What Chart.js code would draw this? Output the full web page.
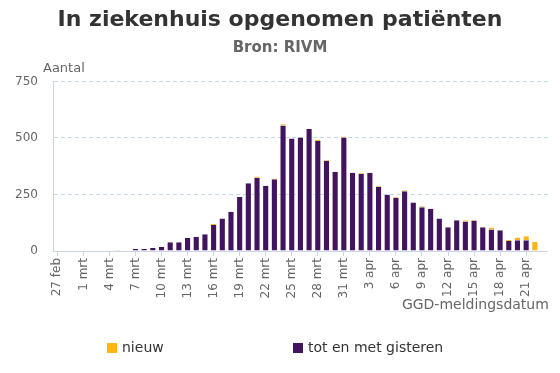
<!DOCTYPE html>
<html lang="nl">
<head>
<meta charset="utf-8">
<title>In ziekenhuis opgenomen patiënten</title>
<script src="https://cdn.jsdelivr.net/npm/chart.js@4/dist/chart.umd.min.js"></script>
<style>
  html, body { margin: 0; padding: 0; background: #fff; }
  #wrap { position: relative; width: 560px; height: 373px; }
  #legenda { position: absolute; left: 0; top: 339px; width: 560px; height: 18px;
    font: 14px "DejaVu Sans", sans-serif; color: #333; }
  .item { position: absolute; top: 0; white-space: nowrap; }
  .item i { display: inline-block; width: 10px; height: 10px; margin-right: 5px; vertical-align: -1px; }
</style>
</head>
<body>
<div id="wrap">
  <canvas id="grafiek" width="560" height="373"></canvas>
  <div id="legenda"></div>
</div>
<script>
// Datums 27 feb t/m 23 apr (2020)
const datums = [
  "27 feb", "28 feb", "29 feb",
  "1 mrt", "2 mrt", "3 mrt", "4 mrt", "5 mrt", "6 mrt", "7 mrt", "8 mrt", "9 mrt", "10 mrt",
  "11 mrt", "12 mrt", "13 mrt", "14 mrt", "15 mrt", "16 mrt", "17 mrt", "18 mrt", "19 mrt", "20 mrt",
  "21 mrt", "22 mrt", "23 mrt", "24 mrt", "25 mrt", "26 mrt", "27 mrt", "28 mrt", "29 mrt", "30 mrt", "31 mrt",
  "1 apr", "2 apr", "3 apr", "4 apr", "5 apr", "6 apr", "7 apr", "8 apr", "9 apr", "10 apr",
  "11 apr", "12 apr", "13 apr", "14 apr", "15 apr", "16 apr", "17 apr", "18 apr", "19 apr", "20 apr",
  "21 apr", "22 apr", "23 apr"
];

// tot en met gisteren (paars)
const totGisteren = [
  0, 0, 0,
  0, 0, 0, 0, 0, 0, 9, 9, 13, 18,
  39, 39, 59, 63, 74, 115, 144, 174, 239, 300,
  324, 289, 317, 555, 497, 502, 540, 486, 399, 350, 502,
  346, 342, 346, 284, 249, 235, 264, 215, 193, 187,
  144, 105, 136, 131, 135, 105, 95, 92, 44, 47,
  47, 0, 0
];

// nieuw (geel)
const nieuw = [
  0, 0, 0,
  0, 0, 0, 0, 4, 0, 0, 0, 0, 0,
  0, 0, 0, 0, 0, 4, 0, 0, 0, 0,
  6, 0, 4, 5, 0, 0, 0, 7, 4, 0, 4,
  0, 4, 0, 5, 0, 5, 5, 0, 5, 0,
  0, 0, 0, 5, 3, 0, 9, 0, 5, 13,
  18, 40, 0
];

const yTicks = [0, 250, 500, 750];
const yTitel = "Aantal";
const xTitel = "GGD-meldingsdatum";

const paars = "#42145f";
const geel = "#ffb612";
const lijnKleur = "#ccd6eb";
const randje = "rgba(255,255,255,0.55)";

// As-titels op de plek waar het origineel ze heeft
const asTitels = {
  id: "asTitels",
  afterDraw(chart) {
    const { ctx, chartArea } = chart;
    ctx.save();
    ctx.fillStyle = "#666";
    ctx.textBaseline = "middle";
    ctx.font = '13px "DejaVu Sans"';
    ctx.textAlign = "left";
    ctx.fillText(yTitel, chartArea.left - 10, chartArea.top - 13);
    ctx.font = '14px "DejaVu Sans"';
    ctx.textAlign = "right";
    ctx.fillText(xTitel, chartArea.right + 1, chartArea.bottom + 54);
    ctx.restore();
  }
};

const ctx = document.getElementById("grafiek");
const grafiek = new Chart(ctx, {
  type: "bar",
  data: {
    labels: datums,
    datasets: [
      {
        label: "tot en met gisteren",
        data: totGisteren,
        backgroundColor: paars,
        borderColor: randje,
        borderWidth: { left: 1, right: 1, top: 0, bottom: 0 },
        categoryPercentage: 1,
        barPercentage: 0.82
      },
      {
        label: "nieuw",
        data: nieuw,
        backgroundColor: geel,
        borderColor: randje,
        borderWidth: { left: 1, right: 1, top: 0, bottom: 0 },
        categoryPercentage: 1,
        barPercentage: 0.82
      }
    ]
  },
  options: {
    responsive: false,
    animation: false,
    devicePixelRatio: 1,
    layout: { padding: { top: 0, right: 10, bottom: 0, left: 10 } },
    plugins: {
      legend: { display: false },
      tooltip: { enabled: false },
      title: {
        display: true,
        text: "In ziekenhuis opgenomen patiënten",
        color: "#333",
        font: { family: "DejaVu Sans", size: 22, weight: "bold" },
        padding: { top: 7, bottom: 6 }
      },
      subtitle: {
        display: true,
        text: "Bron: RIVM",
        color: "#666",
        font: { family: "DejaVu Sans", size: 15, weight: "bold" },
        padding: { top: 0, bottom: 24 }
      }
    },
    scales: {
      x: {
        stacked: true,
        offset: true,
        afterFit: (scale) => { scale.height = 122; },
        grid: {
          offset: false,
          drawOnChartArea: false,
          drawTicks: true,
          tickLength: 5,
          tickColor: (c) => (c.index % 3 === 0 ? lijnKleur : "rgba(0,0,0,0)")
        },
        border: { display: true, color: lijnKleur, width: 1 },
        ticks: {
          autoSkip: false,
          maxRotation: 90,
          minRotation: 90,
          padding: 2,
          color: "#666",
          font: { family: "DejaVu Sans", size: 12 },
          callback: function (val, i) { return i % 3 === 0 ? this.getLabelForValue(val) : ""; }
        }
      },
      y: {
        stacked: true,
        min: 0,
        max: 750,
        afterFit: (scale) => { scale.width = 43; },
        afterBuildTicks: (scale) => { scale.ticks = yTicks.map(v => ({ value: v })); },
        grid: { color: "#c3d6ea", drawTicks: false },
        border: { display: true, color: lijnKleur, width: 1, dash: [4, 3] },
        ticks: {
          padding: 15,
          color: "#666",
          font: { family: "DejaVu Sans", size: 12 }
        }
      }
    }
  },
  plugins: [asTitels]
});

// Legenda als HTML, items ver uit elkaar zoals in het origineel
const legenda = document.getElementById("legenda");
const posities = [107, 293];
[grafiek.data.datasets[1], grafiek.data.datasets[0]].forEach((ds, i) => {
  const el = document.createElement("span");
  el.className = "item";
  el.style.left = posities[i] + "px";
  el.innerHTML = '<i style="background:' + ds.backgroundColor + '"></i>' + ds.label;
  legenda.appendChild(el);
});
</script>
</body>
</html>
